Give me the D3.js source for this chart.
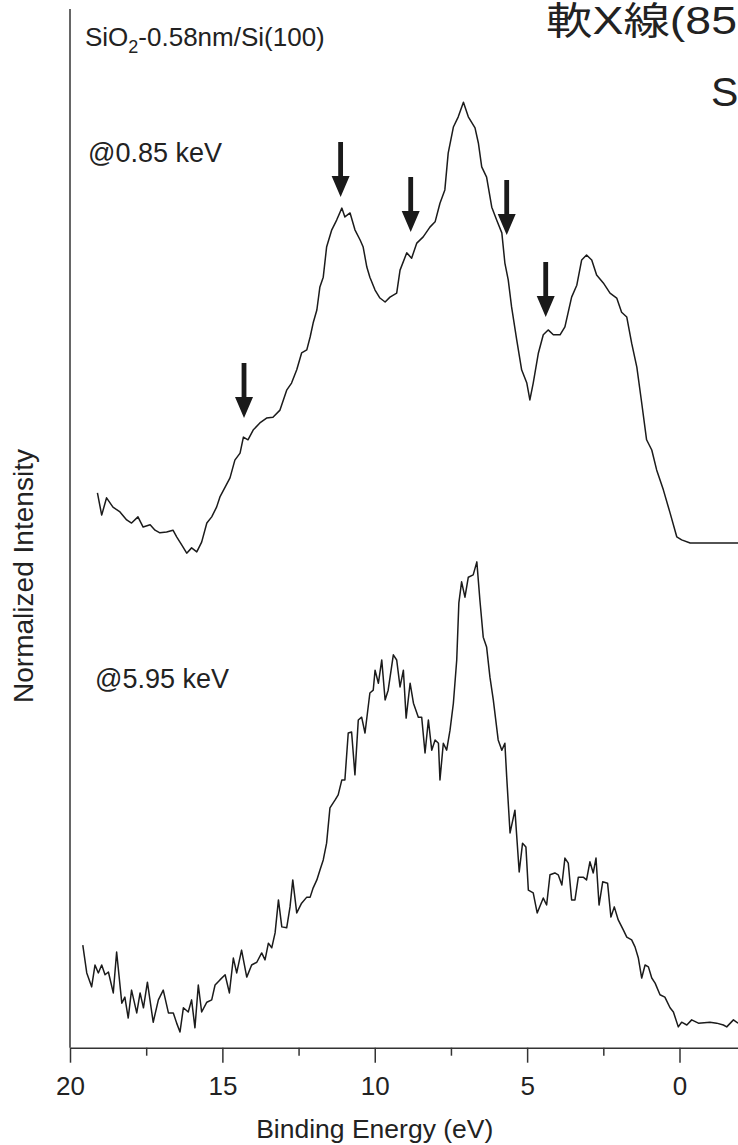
<!DOCTYPE html>
<html><head><meta charset="utf-8">
<script src="https://cdn.jsdelivr.net/npm/d3@7"></script>
<style>
html,body{margin:0;padding:0;background:#fff;}
svg{display:block;}
text{font-family:"Liberation Sans", Arial, sans-serif; fill:#222;}
</style></head><body>
<svg id="chart" width="738" height="1145"></svg>
<script>
// Valence-band spectrum of SiO2 (0.58 nm) on Si(100), excited at 0.85 keV
const softEnergy = [19.10,18.96,18.80,18.59,18.36,18.14,17.98,17.77,17.60,17.37,
  17.21,17.05,16.83,16.62,16.50,16.33,16.17,16.01,15.84,15.68,
  15.51,15.35,15.19,15.08,14.91,14.75,14.59,14.42,14.31,14.16,
  13.99,13.77,13.55,13.34,13.11,12.89,12.73,12.56,12.40,12.23,
  12.12,12.02,11.90,11.80,11.69,11.58,11.41,11.25,11.08,10.98,
  10.81,10.65,10.48,10.38,10.26,10.16,9.99,9.83,9.66,9.50,
  9.28,9.17,8.95,8.79,8.62,8.41,8.19,8.02,7.86,7.70,
  7.59,7.42,7.26,7.09,6.93,6.71,6.60,6.49,6.33,6.16,
  6.00,5.83,5.73,5.62,5.51,5.34,5.18,5.01,4.91,4.80,
  4.63,4.47,4.31,4.14,3.92,3.76,3.54,3.37,3.21,3.05,
  2.88,2.72,2.50,2.28,2.06,1.90,1.73,1.57,1.40,1.24,
  1.08,0.91,0.75,0.53,0.31,0.09,-0.07,-0.35,-0.67,-1.11,
  -1.55,-1.92];
const softIntensity = [0.113,0.063,0.102,0.081,0.070,0.052,0.045,0.059,0.036,0.041,
  0.029,0.023,0.025,0.029,0.014,-0.005,-0.023,-0.011,-0.020,0.002,
  0.045,0.059,0.081,0.104,0.126,0.147,0.187,0.203,0.239,0.233,
  0.255,0.271,0.282,0.284,0.300,0.345,0.361,0.391,0.429,0.436,
  0.465,0.497,0.526,0.578,0.600,0.668,0.707,0.729,0.756,0.736,
  0.745,0.707,0.684,0.668,0.623,0.600,0.571,0.553,0.544,0.555,
  0.564,0.616,0.655,0.643,0.677,0.691,0.713,0.725,0.767,0.797,
  0.880,0.939,0.962,0.995,0.962,0.937,0.903,0.849,0.826,0.758,
  0.729,0.700,0.632,0.594,0.533,0.458,0.391,0.361,0.323,0.361,
  0.429,0.470,0.481,0.470,0.470,0.488,0.555,0.582,0.639,0.650,
  0.639,0.605,0.587,0.564,0.553,0.521,0.510,0.451,0.397,0.316,
  0.233,0.210,0.165,0.120,0.068,0.014,0.007,0,0,0,
  0,0];

// Same sample, excited at 5.95 keV
const hardEnergy = [19.58,19.45,19.29,19.18,19.07,18.96,18.85,18.74,18.58,18.47,
  18.30,18.20,18.09,17.98,17.81,17.70,17.59,17.46,17.27,17.10,
  16.94,16.77,16.61,16.50,16.39,16.28,16.12,16.01,15.90,15.79,
  15.68,15.51,15.35,15.24,15.08,14.91,14.77,14.64,14.53,14.37,
  14.20,14.04,13.87,13.71,13.60,13.49,13.38,13.27,13.16,13.05,
  12.89,12.78,12.69,12.56,12.40,12.23,12.12,12.02,11.90,11.80,
  11.69,11.58,11.47,11.30,11.20,11.08,10.98,10.87,10.76,10.65,
  10.54,10.43,10.32,10.16,10.05,9.99,9.88,9.77,9.66,9.56,
  9.39,9.28,9.17,9.06,8.97,8.84,8.73,8.57,8.46,8.35,
  8.24,8.13,8.02,7.91,7.86,7.75,7.64,7.53,7.42,7.31,
  7.24,7.15,7.04,6.93,6.77,6.65,6.55,6.44,6.33,6.22,
  6.11,5.95,5.83,5.73,5.67,5.56,5.40,5.26,5.15,5.04,
  4.96,4.80,4.67,4.47,4.36,4.25,4.09,3.98,3.86,3.76,
  3.65,3.54,3.43,3.32,3.16,3.05,2.94,2.83,2.74,2.64,
  2.52,2.36,2.25,2.14,2.01,1.84,1.73,1.57,1.46,1.35,
  1.24,1.13,1.02,0.91,0.80,0.64,0.48,0.31,0.20,0.04,
  -0.07,-0.24,-0.40,-0.62,-1.00,-1.22,-1.44,-1.55,-1.77,-1.92];
const hardIntensity = [0.172,0.112,0.082,0.129,0.112,0.129,0.108,0.114,0.069,0.157,
  0.047,0.060,0.015,0.075,0.026,0.069,0.037,0.092,0.006,0.054,
  0.075,0.026,0.026,0.004,-0.015,0.037,0.028,0.054,-0.006,0.086,
  0.028,0.049,0.054,0.086,0.097,0.108,0.069,0.144,0.112,0.161,
  0.103,0.129,0.135,0.155,0.140,0.176,0.166,0.198,0.269,0.211,
  0.209,0.254,0.312,0.241,0.262,0.275,0.275,0.295,0.312,0.333,
  0.355,0.391,0.467,0.484,0.495,0.527,0.527,0.628,0.630,0.538,
  0.656,0.662,0.628,0.714,0.720,0.763,0.735,0.785,0.699,0.720,
  0.796,0.785,0.727,0.763,0.660,0.735,0.692,0.662,0.662,0.585,
  0.656,0.591,0.613,0.606,0.527,0.606,0.591,0.634,0.692,0.785,
  0.908,0.953,0.920,0.963,0.968,0.996,0.914,0.834,0.813,0.748,
  0.699,0.613,0.591,0.606,0.533,0.413,0.462,0.329,0.391,0.383,
  0.290,0.284,0.241,0.273,0.258,0.323,0.327,0.323,0.301,0.359,
  0.348,0.269,0.269,0.318,0.318,0.312,0.351,0.327,0.359,0.258,
  0.308,0.305,0.232,0.254,0.226,0.204,0.189,0.183,0.168,0.144,
  0.101,0.129,0.125,0.101,0.090,0.065,0.060,0.037,0.028,-0.004,
  0.006,0,0.011,0.004,0.006,0.004,0,-0.004,0.011,0.004];

// Features marked on the 0.85 keV spectrum (binding energy, intensity at arrow tip)
const arrowEnergy = [14.29, 11.12, 8.82, 5.67, 4.39];
const arrowIntensity = [0.282, 0.781, 0.702, 0.695, 0.510];

const majorTicks = [20, 15, 10, 5, 0];
const minorTicks = [17.5, 12.5, 7.5, 2.5];
const spectrumLabels = ["@0.85 keV", "@5.95 keV"];

const svg = d3.select("#chart");
const axisY = 1047.7, axisX = 70, axisTop = 9;
const sans = '"Liberation Sans", Arial, sans-serif';
const cjk = '"Liberation Sans", "Noto Sans CJK JP", sans-serif';

const x = d3.scaleLinear().domain([20, -2]).range([axisX, axisX + 22 * 30.475]);
const ySoft = d3.scaleLinear().domain([0, 1]).range([543, 100]);
const yHard = d3.scaleLinear().domain([0, 1]).range([1025, 560]);

const ink = "#1b1b1b";

// axes
svg.append("line").attr("x1", axisX).attr("x2", axisX)
  .attr("y1", axisTop).attr("y2", axisY)
  .attr("stroke", "#333").attr("stroke-width", 1.5);

const gx = svg.append("g").attr("transform", `translate(0,${axisY})`);
gx.call(d3.axisBottom(x).tickValues(majorTicks).tickSize(15).tickSizeOuter(0)
  .tickPadding(14).tickFormat(d3.format("d")));
gx.select(".domain").attr("stroke", "#333").attr("stroke-width", 1.5);
gx.selectAll(".tick line").attr("stroke", "#333").attr("stroke-width", 1.5);
gx.selectAll(".tick text").style("font-size", "26px").attr("fill", "#222")
  .style("font-family", sans);

const gm = svg.append("g").attr("transform", `translate(0,${axisY})`);
gm.call(d3.axisBottom(x).tickValues(minorTicks).tickSize(8).tickSizeOuter(0).tickFormat(""));
gm.select(".domain").remove();
gm.selectAll(".tick line").attr("stroke", "#333").attr("stroke-width", 1.5);

svg.append("text").attr("x", x(10)).attr("y", 1138)
  .attr("text-anchor", "middle").style("font-size", "26.5px")
  .text("Binding Energy (eV)");

svg.append("text")
  .attr("transform", "translate(33,576) rotate(-90)")
  .attr("text-anchor", "middle").style("font-size", "27px")
  .attr("textLength", 254).attr("lengthAdjust", "spacingAndGlyphs")
  .text("Normalized Intensity");

// spectra
const line = (ys) => d3.line().x(d => x(d[0])).y(d => ys(d[1]));
svg.append("path").datum(d3.zip(softEnergy, softIntensity))
  .attr("d", line(ySoft)).attr("fill", "none")
  .attr("stroke", ink).attr("stroke-width", 1.5).attr("stroke-linejoin", "round");
svg.append("path").datum(d3.zip(hardEnergy, hardIntensity))
  .attr("d", line(yHard)).attr("fill", "none")
  .attr("stroke", ink).attr("stroke-width", 1.5).attr("stroke-linejoin", "round");

// arrows pointing down at spectral features
const arrowLen = 55, headLen = 21, headW = 9, shaftW = 2.4;
svg.append("g").selectAll("path").data(d3.zip(arrowEnergy, arrowIntensity)).join("path")
  .attr("d", d => {
    const tx = x(d[0]), ty = ySoft(d[1]);
    const top = ty - arrowLen, hb = ty - headLen;
    return `M${tx - shaftW},${top}L${tx + shaftW},${top}L${tx + shaftW},${hb}` +
      `L${tx + headW},${hb}L${tx},${ty}L${tx - headW},${hb}L${tx - shaftW},${hb}Z`;
  })
  .attr("fill", "#1a1a1a");

// labels
const t1 = svg.append("text").attr("x", 85).attr("y", 46).style("font-size", "26px");
t1.append("tspan").text("SiO");
t1.append("tspan").attr("dy", 7).style("font-size", "18px").text("2");
t1.append("tspan").attr("dy", -7).text("-0.58nm/Si(100)");

svg.append("text").attr("x", 88).attr("y", 162).style("font-size", "27px").text(spectrumLabels[0]);
svg.append("text").attr("x", 95).attr("y", 688).style("font-size", "27px").text(spectrumLabels[1]);

// heading
svg.append("text").attr("x", 546).attr("y", 34)
  .style("font-family", cjk).style("font-size", "38px")
  .attr("fill", "#111").attr("textLength", 191).attr("lengthAdjust", "spacingAndGlyphs")
  .text("軟X線(85");
svg.append("text").attr("x", 711).attr("y", 106)
  .style("font-family", sans).style("font-size", "41px")
  .attr("fill", "#111").text("S");
</script>
</body></html>
